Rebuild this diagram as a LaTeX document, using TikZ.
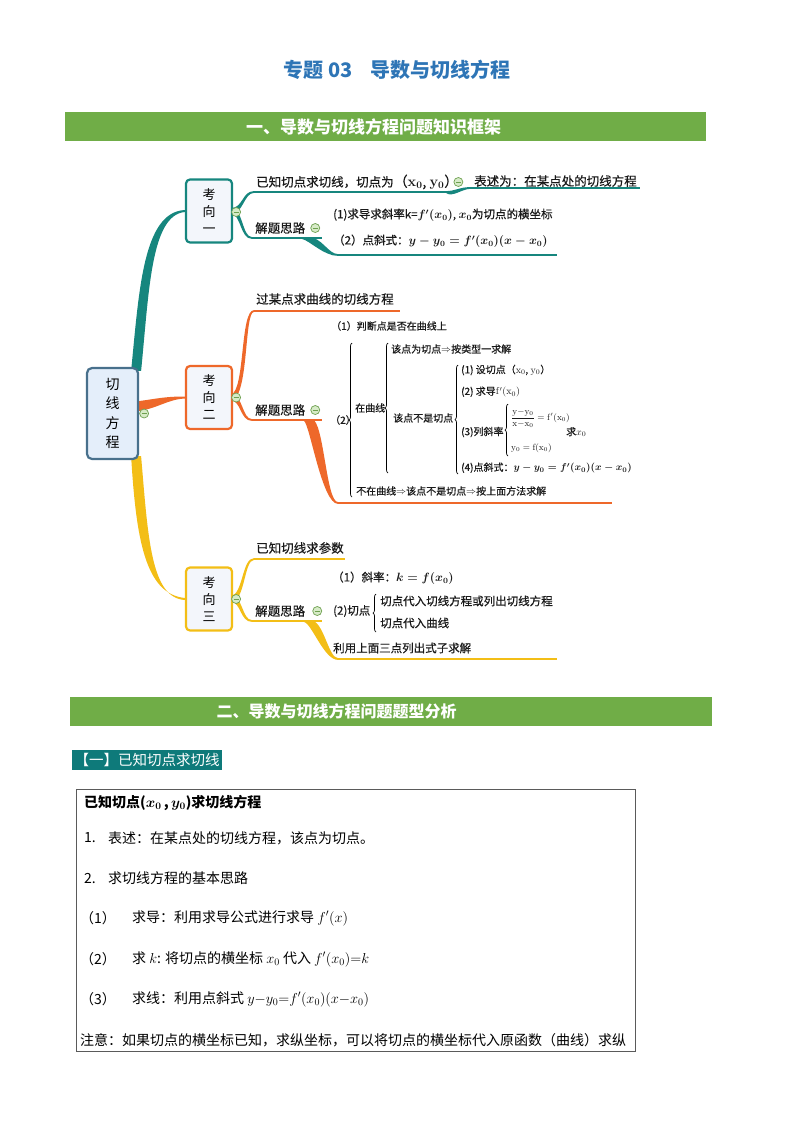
\documentclass[tikz,border=0pt]{standalone}
\usepackage{amsmath,amssymb}
\usepackage[no-math]{fontspec}
\setmainfont{Noto Sans CJK SC}
\newfontfamily\mapfont{Noto Sans CJK SC}[FakeBold=0.5]
\usepackage{xcolor}
\usepackage{tikz}
\usetikzlibrary{positioning,calc,backgrounds,decorations.pathreplacing}

\definecolor{mapteal}{RGB}{22,134,126}
\definecolor{maporange}{RGB}{238,104,42}
\definecolor{mapyellow}{RGB}{243,190,22}
\definecolor{rootedge}{RGB}{72,112,140}
\definecolor{rootfill}{RGB}{228,238,250}
\definecolor{wayfill}{RGB}{243,246,251}
\definecolor{bargreen}{RGB}{112,173,71}
\definecolor{titleblue}{RGB}{46,117,182}
\definecolor{tagteal}{RGB}{14,122,122}
\definecolor{folddark}{RGB}{110,160,80}
\definecolor{foldfill}{RGB}{215,235,200}
\definecolor{boxedge}{RGB}{90,90,90}

\begin{document}
\begin{tikzpicture}[
x=1pt, y=-1pt,
rootbox/.style={draw=rootedge, line width=2.2pt, fill=rootfill, rounded corners=5pt, minimum width=51pt, minimum height=91pt, align=center, inner sep=2pt, font=\fontsize{14}{19.5}\selectfont},
waybox/.style={line width=2.2pt, fill=wayfill, rounded corners=4pt, minimum width=46pt, minimum height=63pt, align=center, inner sep=2pt, font=\fontsize{13}{17}\selectfont},
leaf/.style={anchor=west, inner sep=0pt, text=black!90, font=\fontsize{12.5}{15}\mapfont},
leafmid/.style={anchor=west, inner sep=0pt, text=black!90, font=\fontsize{11.5}{14}\mapfont},
leafsmall/.style={anchor=west, inner sep=0pt, text=black!90, font=\fontsize{10}{12}\mapfont},
foldmark/.style={circle, draw=folddark, fill=foldfill, minimum size=9pt, inner sep=0pt, line width=0.7pt, path picture={\draw[folddark, line width=0.9pt] ([xshift=-2.4pt]path picture bounding box.center) -- ([xshift=2.4pt]path picture bounding box.center);}},
twig/.style={line width=1.8pt},
openbrace/.style={decorate, decoration={brace, amplitude=3pt}, line width=0.7pt},
secbar/.style={fill=bargreen, minimum height=29pt, inner sep=0pt},
bartext/.style={text=white, font=\fontsize{17}{20}\selectfont\bfseries},
boxline/.style={anchor=west, inner sep=0pt, font=\fontsize{14}{17}\selectfont}
]
\useasboundingbox (0,0) rectangle (794,1122);

% --- Title and first bar ---
\node[text=titleblue, font=\fontsize{20}{24}\selectfont\bfseries] (title) at (397,70) {专题 03\hspace{18pt}导数与切线方程};
\node[secbar, minimum width=641pt] (bar1) at (385.5,126.5) {};
\node[bartext] (bar1txt) at (373.5,126.5) {一、导数与切线方程问题知识框架};

% --- Root and the three ways ---
\node[rootbox] (tangent) at (112.5,413.5) {切\\线\\方\\程};
\node[waybox, draw=mapteal] (kx1) at (209,211) {考\\向\\一};
\node[waybox, draw=maporange] (kx2) at (209,397.5) {考\\向\\二};
\node[waybox, draw=mapyellow] (kx3) at (209,599) {考\\向\\三};

% --- Underline ends ---
\coordinate (a1s) at (254,192); \coordinate (a1e) at (452,192);
\coordinate (a2s) at (470,188); \coordinate (a2e) at (640,188);
\coordinate (b1s) at (252,238); \coordinate (b1e) at (322,238);
\coordinate (c1s) at (338,255); \coordinate (c1e) at (557,255);
\coordinate (a3s) at (254,311); \coordinate (a3e) at (400,311);
\coordinate (b2s) at (252,420); \coordinate (b2e) at (322,420);
\coordinate (c2s) at (338,503); \coordinate (c2e) at (612,503);
\coordinate (a4s) at (254,559); \coordinate (a4e) at (345,559);
\coordinate (b3s) at (252,621); \coordinate (b3e) at (322,621);
\coordinate (c3s) at (338,659); \coordinate (c3e) at (557,659);

% --- Tapered branches ---
\begin{scope}[on background layer]
\fill[mapteal] ($(tangent.north east)+(-8,4)$) .. controls +(8,-80) and +(-42,2) .. ($(kx1.west)+(0,-1)$) -- ($(kx1.west)+(0,1)$) .. controls +(-34,3) and +(8,-80) .. ($(tangent.north east)+(2,4)$) -- cycle;
\fill[maporange] ($(tangent.east)+(-3,-12)$) .. controls +(22,-3) and +(-20,0) .. ($(kx2.west)+(0,-1)$) -- ($(kx2.west)+(0,1)$) .. controls +(-18,1) and +(22,-3) .. ($(tangent.east)+(-3,-2)$) -- cycle;
\fill[mapyellow] ($(tangent.south east)+(-8,-4)$) .. controls +(5,82) and +(-40,-4) .. ($(kx3.west)+(0,-1)$) -- ($(kx3.west)+(0,1)$) .. controls +(-34,-2) and +(7,82) .. ($(tangent.south east)+(2,-4)$) -- cycle;

\fill[mapteal] ($(kx1.east)+(-2,-3)$) .. controls +(12,0) and +(-12,0) .. ($(a1s)+(0,-0.9)$) -- ($(a1s)+(0,0.9)$) .. controls +(-10,0) and +(12,0) .. ($(kx1.east)+(-2,3)$) -- cycle;
\fill[mapteal] ($(kx1.east)+(-2,-3)$) .. controls +(12,0) and +(-10,0) .. ($(b1s)+(0,-0.9)$) -- ($(b1s)+(0,0.9)$) .. controls +(-12,0) and +(10,0) .. ($(kx1.east)+(-2,3)$) -- cycle;
\fill[mapteal] ($(a1e)+(-6,-0.9)$) .. controls +(9,0) and +(-10,0) .. ($(a2s)+(0,-0.9)$) -- ($(a2s)+(0,0.9)$) .. controls +(-8,0) and +(6,5) .. ($(a1e)+(-6,0.9)$) -- cycle;
\fill[mapteal] ($(b1e)+(-14,-1)$) .. controls +(14,0) and +(-10,0) .. ($(c1s)+(0,-0.9)$) -- ($(c1s)+(0,0.9)$) .. controls +(-14,0) and +(8,2) .. ($(b1e)+(-20,0.9)$) -- cycle;

\fill[maporange] ($(kx2.east)+(-2,-3)$) .. controls +(14,-4) and +(-14,0) .. ($(a3s)+(0,-0.9)$) -- ($(a3s)+(0,0.9)$) .. controls +(-10,0) and +(18,-2) .. ($(kx2.east)+(-2,3)$) -- cycle;
\fill[maporange] ($(kx2.east)+(-2,-3)$) .. controls +(12,0) and +(-10,0) .. ($(b2s)+(0,-0.9)$) -- ($(b2s)+(0,0.9)$) .. controls +(-12,0) and +(10,0) .. ($(kx2.east)+(-2,3)$) -- cycle;
\fill[maporange] ($(b2e)+(-10,-1)$) .. controls +(12,2) and +(-12,0) .. ($(c2s)+(0,-0.9)$) -- ($(c2s)+(0,0.9)$) .. controls +(-16,0) and +(6,4) .. ($(b2e)+(-18,0.9)$) -- cycle;

\fill[mapyellow] ($(kx3.east)+(-2,-3)$) .. controls +(12,-2) and +(-12,0) .. ($(a4s)+(0,-0.9)$) -- ($(a4s)+(0,0.9)$) .. controls +(-10,0) and +(14,0) .. ($(kx3.east)+(-2,3)$) -- cycle;
\fill[mapyellow] ($(kx3.east)+(-2,-3)$) .. controls +(12,0) and +(-10,0) .. ($(b3s)+(0,-0.9)$) -- ($(b3s)+(0,0.9)$) .. controls +(-12,0) and +(10,0) .. ($(kx3.east)+(-2,3)$) -- cycle;
\fill[mapyellow] ($(b3e)+(-12,-1)$) .. controls +(14,0) and +(-10,0) .. ($(c3s)+(0,-0.9)$) -- ($(c3s)+(0,0.9)$) .. controls +(-14,0) and +(8,2) .. ($(b3e)+(-18,0.9)$) -- cycle;
\end{scope}

% --- Underlines ---
\draw[mapteal, twig] (a1s) -- (a1e);
\draw[mapteal, twig] (a2s) -- (a2e);
\draw[mapteal, twig] (b1s) -- (b1e);
\draw[mapteal, twig] (c1s) -- (c1e);
\draw[maporange, twig] (a3s) -- (a3e);
\draw[maporange, twig] (b2s) -- (b2e);
\draw[maporange, twig] (c2s) -- (c2e);
\draw[mapyellow, twig] (a4s) -- (a4e);
\draw[mapyellow, twig] (b3s) -- (b3e);
\draw[mapyellow, twig] (c3s) -- (c3e);

% --- Way one ---
\node[leaf] (t1a) at (256,182) {已知切点求切线，切点为{\fontsize{14}{16}\selectfont（{\boldmath$\mathbf{x}_0$}, {\boldmath$\mathbf{y}_0$}）}};
\node[leaf] (t1b) at (474,181) {表述为：在某点处的切线方程};
\node[leaf] (s1) at (255,228) {解题思路};
\node[leafmid] (c1a) at (333,215) {(1)求导求斜率k={\boldmath$f'(x_0)$}, {\boldmath$x_0$}为切点的横坐标};
\node[leafmid] (c1b) at (333,241) {（2）点斜式：{\boldmath$y-y_0=f'(x_0)(x-x_0)$}};

% --- Way two ---
\node[leaf] (t2a) at (256,299) {过某点求曲线的切线方程};
\node[leaf] (s2) at (255,410) {解题思路};
\node[leafsmall] (c2a) at (331,326) {（1）判断点是否在曲线上};
\node[leafsmall] (c2b) at (330,420) {（2）};
\node[leafsmall] (c2c) at (355,408) {在曲线};
\node[leafsmall] (c2d) at (391,349) {该点为切点$\Rightarrow$按类型一求解};
\node[leafsmall] (c2e) at (393,418) {该点不是切点};
\node[leafsmall] (c2f) at (461,370) {(1) 设切点（$\mathrm{x}_0$, $\mathrm{y}_0$）};
\node[leafsmall] (c2g) at (461,392) {(2) 求导$\mathrm{f}'(\mathrm{x}_0)$};
\node[leafsmall] (c2h) at (461,432) {(3)列斜率};
\node[leafsmall, font=\fontsize{9}{11}\mapfont] (c2i) at (511,418) {$\dfrac{\mathrm{y}{-}\mathrm{y}_0}{\mathrm{x}{-}\mathrm{x}_0}=\mathrm{f}'(\mathrm{x}_0)$};
\node[leafsmall, font=\fontsize{9}{11}\mapfont] (c2j) at (511,448) {$\mathrm{y}_0=\mathrm{f}(\mathrm{x}_0)$};
\node[leafsmall] (c2k) at (566,432) {求$x_0$};
\node[leafsmall] (c2l) at (461,468) {(4)点斜式：{\boldmath$y-y_0=f'(x_0)(x-x_0)$}};
\node[leafsmall] (c2m) at (356,491) {不在曲线$\Rightarrow$该点不是切点$\Rightarrow$按上面方法求解};
\draw[openbrace] (352,497) -- (352,343);
\draw[openbrace] (388,473) -- (388,343);
\draw[openbrace] (458,474) -- (458,365);
\draw[openbrace] (508,456) -- (508,404);

% --- Way three ---
\node[leaf] (t3a) at (256,548) {已知切线求参数};
\node[leaf] (s3) at (255,611) {解题思路};
\node[leafmid] (c3a) at (332,578) {（1）斜率：{\boldmath$k=f(x_0)$}};
\node[leafmid] (c3b) at (333,611) {(2)切点};
\node[leafmid] (c3c) at (380,601) {切点代入切线方程或列出切线方程};
\node[leafmid] (c3d) at (380,623) {切点代入曲线};
\node[leafmid] (c3e) at (333,648) {利用上面三点列出式子求解};
\draw[openbrace] (376,632) -- (376,594);

% --- Fold marks ---
\node[foldmark] (fold0) at ($(tangent.east)+(5,0)$) {};
\node[foldmark] (fold1) at ($(kx1.east)+(3,1)$) {};
\node[foldmark] (fold2) at ($(kx2.east)+(3,0)$) {};
\node[foldmark] (fold3) at ($(kx3.east)+(3,0)$) {};
\node[foldmark, right=-5pt of t1a] (fold4) {};
\node[foldmark, right=5pt of s1] (fold5) {};
\node[foldmark, right=5pt of s2] (fold6) {};
\node[foldmark, right=7pt of s3] (fold7) {};

% --- Second bar and tag ---
\node[secbar, minimum width=642pt] (bar2) at (391,711.5) {};
\node[bartext, font=\fontsize{16}{19}\selectfont\bfseries] (bar2txt) at (336.5,711.5) {二、导数与切线方程问题题型分析};
\node[fill=tagteal, text=white, minimum width=150pt, minimum height=20pt, inner sep=0pt, font=\fontsize{14.5}{17}\selectfont] (tag) at (147,759.5) {【一】已知切点求切线};

% --- Method box ---
\node[draw=boxedge, line width=0.9pt, minimum width=559pt, minimum height=262pt, inner sep=0pt] (frame) at (355.5,920) {};
\node[boxline, font=\fontsize{14}{17}\selectfont\bfseries] (bxhead) at (84,803) {已知切点({\boldmath$x_0$}\,,\,{\boldmath$y_0$})求切线方程};
\node[boxline] (bxn1) at (84,838) {1.};
\node[boxline] (bxt1) at (108,838) {表述：在某点处的切线方程，该点为切点。};
\node[boxline] (bxn2) at (84,878) {2.};
\node[boxline] (bxt2) at (108,878) {求切线方程的基本思路};
\node[boxline] (bxn3) at (80,918) {（1）};
\node[boxline] (bxt3) at (132,918) {求导：利用求导公式进行求导 $f'(x)$};
\node[boxline] (bxn4) at (80,959) {（2）};
\node[boxline] (bxt4) at (132,959) {求 $k$: 将切点的横坐标 $x_0$ 代入 $f'(x_0){=}k$};
\node[boxline] (bxn5) at (80,999) {（3）};
\node[boxline] (bxt5) at (132,999) {求线：利用点斜式 $y{-}y_0{=}f'(x_0)(x{-}x_0)$};
\node[boxline] (bxt6) at (80,1040) {注意：如果切点的横坐标已知，求纵坐标，可以将切点的横坐标代入原函数（曲线）求纵};

\end{tikzpicture}
\end{document}
